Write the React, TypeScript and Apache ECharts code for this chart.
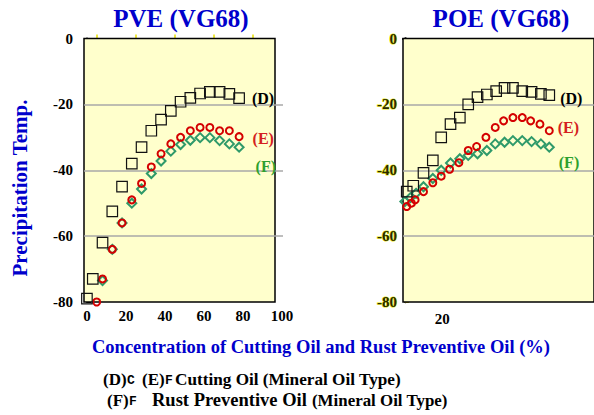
import React, { useEffect, useRef } from "react";
import * as echarts from "echarts";

// ---- data ----
const leftDX = [0, 3, 8, 13, 18, 23, 28, 33, 38, 43, 48, 53, 58, 63, 68, 73, 78];
const leftDY = [-79, -73, -62, -52.5, -45, -38, -33, -28, -24.6, -22, -19.2, -18, -16.7, -16.2, -16.2, -16.8, -18.1];
const leftEX = [5, 8, 13, 18, 23, 28, 33, 38, 43, 48, 53, 58, 63, 68, 73, 78];
const leftEY = [-80, -73, -64, -56, -49, -44, -39, -35, -32, -30, -28, -27, -27, -28, -28, -29.8];
const leftFX = [8, 13, 18, 23, 28, 33, 38, 43, 48, 53, 58, 63, 68, 73, 78];
const leftFY = [-73.5, -64, -56, -50, -45.7, -41, -37.2, -34.2, -32.2, -30.9, -30.1, -30.1, -31, -32, -33];

const rightDX = [1, 4.5, 10, 15, 19.5, 24.5, 29.5, 34, 39, 44, 49, 53.5, 58, 63, 68, 73, 77.5];
const rightDY = [-46.5, -44.7, -40.8, -37, -30, -26, -24, -20, -17.8, -17, -16, -15, -15, -16, -16.2, -16.8, -17.2];
const rightEX = [1, 3.5, 5.5, 10, 15, 19.5, 24, 29, 34, 38.5, 43.5, 48.5, 53, 58, 63, 67.5, 72.5, 77.5];
const rightEY = [-51, -50, -49, -46.5, -43.8, -41.8, -39.7, -37.7, -34, -32.8, -30, -27, -25, -24, -24, -25, -26, -28];
const rightFX = [0, 3, 6, 10, 15, 19.5, 24.5, 29.5, 34, 39, 44, 48.5, 53.5, 58, 63, 68, 73, 77.5];
const rightFY = [-49.5, -48.3, -47, -45, -42.5, -40, -37.8, -36.5, -35.5, -35, -34, -32, -31.5, -31, -31, -31.3, -32, -33];

const leftXTicks = [0, 20, 40, 60, 80, 100];
const leftXMinorTicks = [5, 25, 45, 65, 85];
const rightXTicks = [20];
const gridLineValues = [-20, -40, -60];

const titles = ["PVE (VG68)", "POE (VG68)"];
const seriesNames = ["(D)", "(E)", "(F)"];
const yName = "Precipitation Temp.";
const xName = "Concentration of Cutting Oil and Rust Preventive Oil (%)";

const SERIF = "Liberation Serif";
const MONO = "Liberation Mono";
const BLUE = "#0000cc";
const COLORS = { D: "#111111", E: "#d40000", F: "#2f9a6a" };
const LABEL_COLORS = { D: "#000000", E: "#d42020", F: "#2ea02e" };

function zip(xs: number[], ys: number[], label?: any) {
  return xs.map((x, i) => {
    if (label && i === xs.length - 1) return { value: [x, ys[i]], label };
    return [x, ys[i]];
  });
}

function lbl(text: string, color: string, distance: number, offset: number[]) {
  return {
    show: true,
    position: "right",
    distance,
    offset,
    formatter: text,
    color,
    fontFamily: SERIF,
    fontWeight: "bold",
    fontSize: 16,
  };
}

function txt(text: string, x: number, y: number, size: number, color: string, extra: any = {}, family = SERIF, align = "center") {
  return {
    type: "text",
    x,
    y,
    ...extra,
    style: {
      text,
      fill: color,
      fontFamily: family,
      fontWeight: "bold",
      fontSize: size,
      textAlign: align,
      textVerticalAlign: "middle",
    },
  };
}

export default function App() {
  const ref = useRef<HTMLDivElement>(null);

  useEffect(() => {
    if (!ref.current) return;
    const chart = echarts.init(ref.current, null, { renderer: "svg" });

    const yAxisBase = (idx: number) => ({
      type: "value",
      gridIndex: idx,
      min: -80,
      max: 0,
      interval: 10,
      splitLine: { show: false },
      axisLine: { show: true, lineStyle: { color: "#000", width: idx === 0 ? 2 : 2.5 } },
      axisTick: {
        show: true,
        inside: true,
        length: 4,
        lineStyle: { color: idx === 0 ? "#000" : "#b0a800", width: 1 },
      },
      axisLabel: {
        margin: idx === 0 ? 11 : 6,
        formatter: (v: number) => (v % 20 === 0 ? String(v) : ""),
        color: idx === 0 ? "#000" : "#2a2a00",
        textBorderColor: idx === 0 ? "transparent" : "#e6e600",
        textBorderWidth: idx === 0 ? 0 : 1,
        fontFamily: SERIF,
        fontWeight: "bold",
        fontSize: 15,
      },
    });

    const bgSeries = (idx: number, xmin: number, xmax: number) => ({
      type: "scatter",
      xAxisIndex: idx,
      yAxisIndex: idx,
      data: [],
      silent: true,
      z: 1,
      markArea: {
        silent: true,
        z: 1,
        itemStyle: { color: "#ffffcc", borderColor: "#000", borderWidth: 1.5 },
        data: [[{ coord: [xmin, 0] }, { coord: [xmax, -80] }]],
      },
      markLine: {
        silent: true,
        z: 2,
        symbol: ["none", "none"],
        label: { show: false },
        lineStyle: { color: "#a8a8a8", type: "solid", width: 1.5 },
        data: gridLineValues.map((v) => ({ yAxis: v })),
      },
    });

    const sq = (idx: number, data: any[]) => ({
      type: "scatter",
      xAxisIndex: idx,
      yAxisIndex: idx,
      z: 5,
      symbol: "rect",
      symbolSize: 10.5,
      itemStyle: { color: "rgba(0,0,0,0)", borderColor: COLORS.D, borderWidth: 1.2, opacity: 1 },
      data,
    });
    const ci = (idx: number, data: any[]) => ({
      type: "scatter",
      xAxisIndex: idx,
      yAxisIndex: idx,
      z: 4,
      symbol: "circle",
      symbolSize: 7,
      itemStyle: { color: "rgba(0,0,0,0)", borderColor: COLORS.E, borderWidth: 2, opacity: 1 },
      data,
    });
    const di = (idx: number, data: any[]) => ({
      type: "scatter",
      xAxisIndex: idx,
      yAxisIndex: idx,
      z: 3,
      symbol: "diamond",
      symbolSize: 9,
      itemStyle: { color: "rgba(0,0,0,0)", borderColor: COLORS.F, borderWidth: 2, opacity: 1 },
      data,
    });

    const tickLabel = {
      color: "#000",
      fontFamily: SERIF,
      fontWeight: "bold",
      fontSize: 15,
    };

    const option: any = {
      animation: false,
      backgroundColor: "#ffffff",
      textStyle: { fontFamily: SERIF, fontWeight: "bold" },
      grid: [
        { left: 84, top: 38.5, width: 199, height: 263.5 },
        { left: 403, top: 38.5, width: 200, height: 263.5 },
      ],
      xAxis: [
        {
          type: "value",
          gridIndex: 0,
          min: -1.5,
          max: 100.5,
          splitLine: { show: false },
          axisLine: { show: false },
          axisTick: {
            show: true,
            inside: true,
            length: 4,
            customValues: leftXMinorTicks,
            lineStyle: { color: "#e8e000", width: 1.5 },
          },
          axisLabel: { customValues: leftXTicks, margin: 6, ...tickLabel },
        },
        {
          type: "value",
          gridIndex: 1,
          min: -1,
          max: 101.5,
          splitLine: { show: false },
          axisLine: { show: true, lineStyle: { color: "#000", width: 2 } },
          axisTick: { show: false },
          axisLabel: { customValues: rightXTicks, margin: 9, ...tickLabel },
        },
      ],
      yAxis: [yAxisBase(0), yAxisBase(1)],
      series: [
        bgSeries(0, -1.5, 96.4),
        bgSeries(1, -1, 101.5),
        di(0, zip(leftFX, leftFY, lbl(seriesNames[2], LABEL_COLORS.F, 11, [0, 19]))),
        ci(0, zip(leftEX, leftEY, lbl(seriesNames[1], LABEL_COLORS.E, 9, [0, 2]))),
        sq(0, zip(leftDX, leftDY, lbl(seriesNames[0], LABEL_COLORS.D, 7, [0, 0]))),
        di(1, zip(rightFX, rightFY, lbl(seriesNames[2], LABEL_COLORS.F, 4, [0, 15]))),
        ci(1, zip(rightEX, rightEY, lbl(seriesNames[1], LABEL_COLORS.E, 4, [0, -3]))),
        sq(1, zip(rightDX, rightDY, lbl(seriesNames[0], LABEL_COLORS.D, 5, [0, 3]))),
      ],
      graphic: [
        txt(titles[0], 181, 18, 25, BLUE),
        txt(titles[1], 501, 18, 25, BLUE),
        txt(yName, 20, 188, 21, BLUE, { rotation: Math.PI / 2 }),
        txt(xName, 321, 347, 18.5, BLUE),
        txt("(D)", 103, 379, 17, "#000", {}, SERIF, "left"),
        txt("C", 127, 380, 13, "#000", {}, MONO, "left"),
        txt("(E)", 142, 379, 17, "#000", {}, SERIF, "left"),
        txt("F", 165, 380, 13, "#000", {}, MONO, "left"),
        txt("Cutting Oil (Mineral Oil Type)", 175, 379, 17.2, "#000", {}, SERIF, "left"),
        txt("(F)", 107, 400, 17, "#000", {}, SERIF, "left"),
        txt("F", 129, 401, 13, "#000", {}, MONO, "left"),
        txt("Rust Preventive Oil", 152, 400, 18.5, "#000", {}, SERIF, "left"),
        txt("(Mineral Oil Type)", 312, 400, 16.9, "#000", {}, SERIF, "left"),
      ],
    };

    chart.setOption(option);
    return () => chart.dispose();
  }, []);

  return (
    <div
      ref={ref}
      style={{ position: "fixed", left: 0, top: 0, width: 594, height: 415, background: "#fff" }}
    />
  );
}
